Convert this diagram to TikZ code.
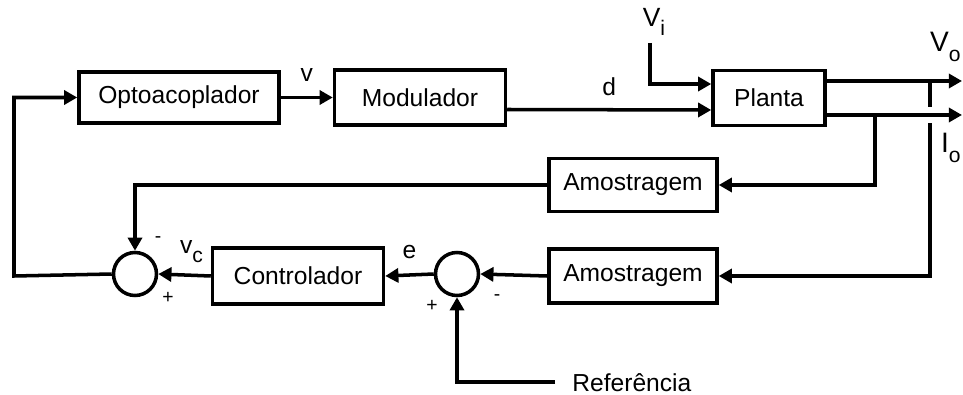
\documentclass[tikz,border=0pt]{standalone}
\usepackage{fontspec}
\setmainfont{Liberation Sans}
\usepackage{tikz}
\usetikzlibrary{arrows.meta, positioning, calc}
\newcommand{\idx}[1]{\raisebox{-0.7ex}{\fontsize{12}{13}\selectfont #1}}
\tikzset{
    box/.style={rectangle, draw, line width=2pt, fill=white, font=\fontsize{14}{16}\selectfont, inner sep=0pt},
    sumnode/.style={circle, draw, line width=2pt, minimum size=0.86cm, inner sep=0pt},
    arrow/.style={-{Triangle[length=7.5pt, width=8pt]}, line width=2pt},
    wire/.style={line width=2pt},
    lbl/.style={font=\fontsize{14}{16}\selectfont, inner sep=0pt},
    sign/.style={font=\fontsize{11}{12}\selectfont, inner sep=0pt}
}

\begin{document}
\begin{tikzpicture}[x=0.02cm, y=-0.02cm]
    \useasboundingbox (0,0) rectangle (963,395);
    % blocks
    \node[box, minimum width=4.0cm, minimum height=1.02cm] (opto) at (179,97.5) {Optoacoplador};
    \node[box, minimum width=3.42cm, minimum height=1.1cm] (modul) at (420,97.5) {Modulador};
    \node[box, minimum width=2.24cm, minimum height=1.1cm] (planta) at (769,98) {Planta};
    \node[box, minimum width=3.36cm, minimum height=1.06cm] (amos1) at (633,185) {Amostragem};
    \node[box, minimum width=3.36cm, minimum height=1.08cm] (amos2) at (633,276) {Amostragem};
    \node[box, minimum width=3.42cm, minimum height=1.12cm] (contr) at (298,276) {Controlador};
    \node[sumnode] (sum1) at (135,274) {};
    \node[sumnode] (sum2) at (457,274) {};
    % free ends
    \coordinate (vi) at (650,43);
    \coordinate (vo) at (962,81);
    \coordinate (io) at (962,115);
    \coordinate (br1) at (875,115);
    \coordinate (br2) at (930,81);
    \coordinate (gap) at (930,123);
    \coordinate (ref) at (555,382);
    \coordinate (lft) at (14,276);
    % forward path
    \draw[arrow] (opto.east) -- (modul.west) node[lbl, midway, above=8pt] {v};
    \draw[arrow] ([yshift=-0.24cm]modul.east) -- ([yshift=-0.24cm]planta.west) node[lbl, midway, above=7pt] {d};
    \draw[arrow] (vi) |- ([yshift=0.28cm]planta.west);
    \draw[arrow] (planta.east |- vo) -- (vo);
    \draw[arrow] (planta.east |- io) -- (io);
    % feedback
    \draw[arrow] (br1) |- (amos1.east);
    \draw[wire] (br2) -- ++(0,26);
    \draw[arrow] (gap) |- (amos2.east);
    \draw[arrow] (amos1.west) -| (sum1.north);
    \draw[arrow] (amos2.west) -- (sum2.east);
    \draw[arrow] (ref) -| (sum2.south);
    \draw[arrow] (sum2.west) -- (contr.east) node[lbl, midway, above=8pt] {e};
    \draw[arrow] (contr.west) -- (sum1.east) node[lbl, midway, above=6pt, xshift=4pt] {v\idx{c}};
    \draw[arrow] (sum1.west) -- (lft) |- (opto.west);
    % texts
    \node[lbl, anchor=west] (reflbl) at (572,383) {Referência};
    \node[lbl, font=\fontsize{15}{17}\selectfont] (vilbl) at (654,22) {V\idx{i}};
    \node[lbl, font=\fontsize{16}{18}\selectfont, anchor=east] (volbl) at (961,47) {V\idx{o}};
    \node[lbl, font=\fontsize{16}{18}\selectfont, anchor=east] (iolbl) at (961,148) {I\idx{o}};
    \node[sign] (s1a) at (158,240) {-};
    \node[sign] (s1b) at (168,298) {+};
    \node[sign] (s2a) at (432,306) {+};
    \node[sign] (s2b) at (497,298) {-};
\end{tikzpicture}
\end{document}
